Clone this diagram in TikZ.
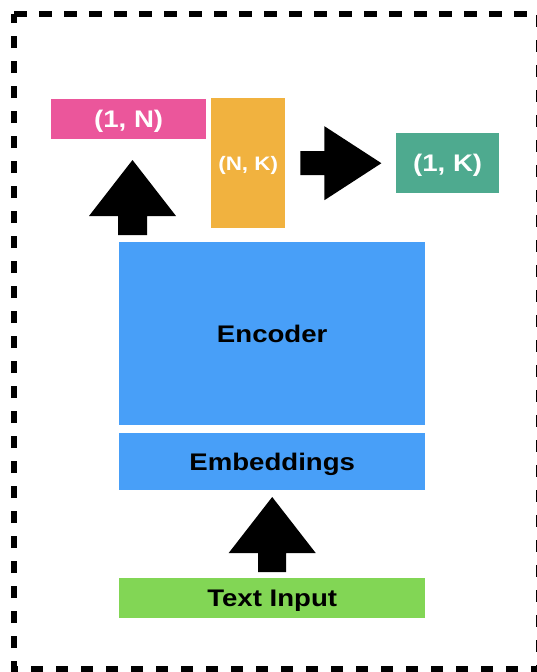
\documentclass[tikz,border=0pt]{standalone}
\usepackage{fontspec}
\newfontfamily\lab[FakeStretch=1.15]{Liberation Sans}
\definecolor{pinkc}{HTML}{EB569B}
\definecolor{orangec}{HTML}{F1B23F}
\definecolor{tealc}{HTML}{4EAA8F}
\definecolor{bluec}{HTML}{489FF8}
\definecolor{greenc}{HTML}{82D655}
\begin{document}
\begin{tikzpicture}[x=1pt,y=-1pt,
  box/.style={anchor=north west, inner sep=0pt, align=center,
    text height=17pt, text depth=0pt,
    font=\lab\bfseries\fontsize{24}{28}\selectfont},
  smallbox/.style={box, text height=14pt,
    font=\lab\bfseries\fontsize{19.5}{23}\selectfont},
  blockarrow/.style={fill=black}]
\useasboundingbox (0,0) rectangle (536,672);
% dashed frame
\draw[line width=5.5pt, dash pattern=on 12.5pt off 12.5pt] (14,14) -- (538.5,14) -- (538.5,669) -- (14,669) -- cycle;
% boxes
\node[box, fill=pinkc, text=white, minimum width=155pt, minimum height=40pt] (p1) at (51,99) {(1, N)};
\node[smallbox, fill=orangec, text=white, minimum width=74pt, minimum height=130pt] (nk) at (211,98) {(N, K)};
\node[box, fill=tealc, text=white, minimum width=103pt, minimum height=60pt] (k1) at (396,133) {(1, K)};
\node[box, fill=bluec, text=black, minimum width=306pt, minimum height=183pt] (enc) at (119,242) {Encoder};
\node[box, fill=bluec, text=black, minimum width=306pt, minimum height=57pt] (emb) at (119,433) {Embeddings};
\node[box, fill=greenc, text=black, minimum width=306pt, minimum height=40pt] (inp) at (119,578) {Text Input};
% block arrows
\coordinate (a1) at ([xshift=13.5pt,yshift=7pt]enc.north west);
\coordinate (a2) at ([yshift=6pt]inp.north);
\coordinate (a3) at ([xshift=15pt]nk.east);
\fill[blockarrow] (a1) ++(-14.5,0) -- ++(0,-19) -- ++(-29,0) -- ++(43.5,-56) -- ++(43.5,56) -- ++(-29,0) -- ++(0,19) -- cycle;
\fill[blockarrow] (a2) ++(-14,0) -- ++(0,-19) -- ++(-29.5,0) -- ++(43.5,-56) -- ++(43.5,56) -- ++(-29.5,0) -- ++(0,19) -- cycle;
\fill[blockarrow] (a3) ++(0,-12) -- ++(24,0) -- ++(0,-25) -- ++(57,37) -- ++(-57,37) -- ++(0,-25) -- ++(-24,0) -- cycle;
\end{tikzpicture}
\end{document}
